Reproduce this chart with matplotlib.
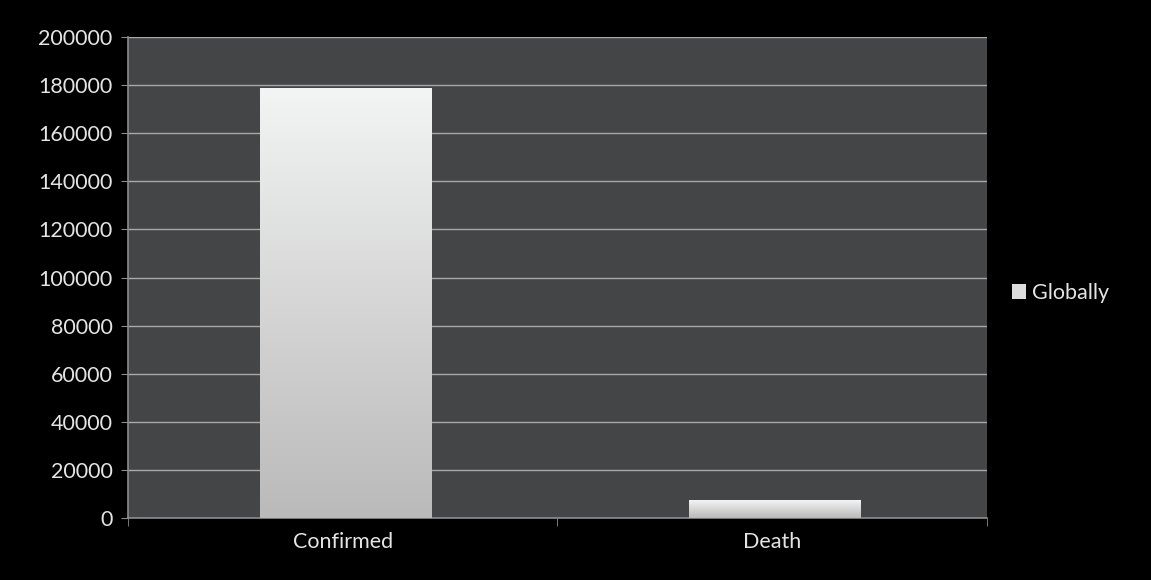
import matplotlib.pyplot as plt
import numpy as np
from matplotlib.patches import Patch
from matplotlib.colors import LinearSegmentedColormap

categories = ["Confirmed", "Death"]
globally = [179000, 7400]
y_ticks = [0, 20000, 40000, 60000, 80000, 100000, 120000, 140000, 160000, 180000, 200000]

plt.rcParams['font.family'] = ['Lato', 'DejaVu Sans']

fig = plt.figure(figsize=(11.51, 5.80), dpi=100, facecolor="black")
ax = fig.add_axes([0.1112, 0.1069, 0.7463, 0.8293])
ax.set_facecolor("#444546")

x = np.arange(len(categories))
bars = ax.bar(x + 0.007, globally, width=0.4, color="none", zorder=2)

# vertical grey-white gradient inside each bar (darker at the base)
bar_cmap = LinearSegmentedColormap.from_list("bar", ["#bababa", "#d6d6d6", "#f3f4f4"])
grad = np.linspace(0, 1, 256).reshape(-1, 1)
for b in bars:
    x0, w, h = b.get_x(), b.get_width(), b.get_height()
    img = ax.imshow(grad, extent=(x0, x0 + w, 0, h), origin="lower", aspect="auto",
                    cmap=bar_cmap, vmin=0, vmax=1, zorder=3)
    img.set_clip_path(b)

ax.set_xlim(-0.5, len(categories) - 0.5)
ax.set_ylim(0, 200000)
ax.set_yticks(y_ticks)
ax.set_yticklabels([str(t) for t in y_ticks])
ax.set_xticks(x)
ax.set_xticklabels(categories)
ax.set_xticks(np.arange(len(categories) + 1) - 0.5, minor=True)
ax.tick_params(axis="x", which="major", length=0, pad=10)
ax.tick_params(axis="x", which="minor", length=6, color="#8c8c8c", direction="out")
ax.tick_params(axis="y", length=5, color="#8c8c8c", pad=6)
ax.tick_params(labelsize=15.5)
for lab in ax.get_xticklabels() + ax.get_yticklabels():
    lab.set_color("#e4e4e4")

ax.grid(axis="y", color="#a8a8a8", linewidth=1, zorder=1)
ax.set_axisbelow(True)
for side in ["top", "right"]:
    ax.spines[side].set_visible(False)
for side in ["left", "bottom"]:
    ax.spines[side].set_color("#8c8c8c")
    ax.spines[side].set_linewidth(1.2)

handle = Patch(facecolor="#dcdcdc", edgecolor="none")
fig.legend([handle], ["Globally"], loc="center left", bbox_to_anchor=(0.862, 0.495),
           frameon=False, fontsize=15.5, handlelength=0.65, handleheight=0.65,
           handletextpad=0.3, labelcolor="#e4e4e4")

fig.savefig("out.png", dpi=100, facecolor="black")
